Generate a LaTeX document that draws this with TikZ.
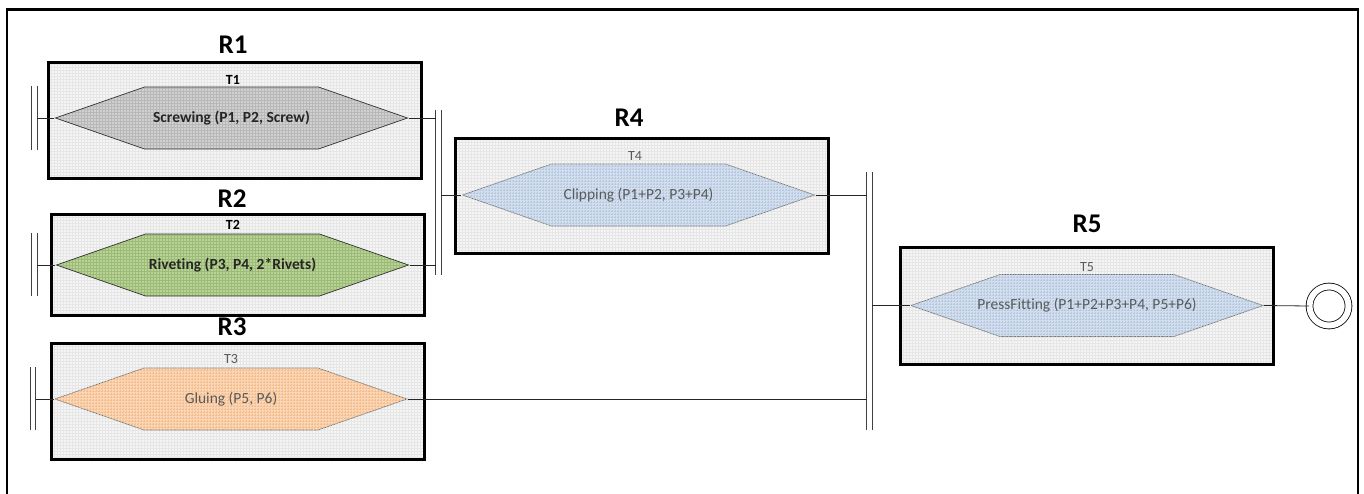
\documentclass[tikz,border=0pt]{standalone}
\usepackage{fontspec}
\setmainfont{Carlito}[Ligatures=NoCommon]
\usetikzlibrary{positioning, shapes.symbols, patterns, calc}

\definecolor{boxfill}{HTML}{F5F5F5}
\definecolor{boxgrid}{HTML}{E6E6E6}
\definecolor{grayfill}{HTML}{D0D0D0}
\definecolor{graygrid}{HTML}{B8B8B8}
\definecolor{greenfill}{HTML}{B9D396}
\definecolor{greengrid}{HTML}{9DBB78}
\definecolor{orangefill}{HTML}{FAD6B4}
\definecolor{orangegrid}{HTML}{F4BC8C}
\definecolor{bluefill}{HTML}{D2DEEE}
\definecolor{bluegrid}{HTML}{B5C8E0}
\definecolor{txtgray}{HTML}{5A5A5A}

% text of a task, kept out of the shape's size
\newcommand{\tasktxt}[1]{\makebox[0pt]{#1}}

\tikzset{
  resbox/.style={draw, line width=3pt, preaction={fill=boxfill},
    pattern=grid, pattern color=boxgrid,
    inner sep=0pt, minimum width=373pt},
  reslabel/.style={font=\fontsize{27}{27}\selectfont\bfseries},
  task/.style={signal, signal to=east and west, signal pointer angle=38.4,
    minimum width=352pt, minimum height=62pt, inner sep=0pt,
    preaction={fill=#1fill}, pattern=grid, pattern color=#1grid},
  taskon/.style={draw=black!80, line width=0.7pt,
    font=\fontsize{15.5}{15.5}\selectfont\bfseries, text=black!85},
  taskoff/.style={draw=black!55, line width=0.7pt, dash pattern=on 1pt off 0.6pt,
    font=\fontsize{15.5}{15.5}\selectfont, text=txtgray},
  tlbl/.style={font=\fontsize{14}{14}\selectfont, inner sep=0pt},
  barnode/.style={minimum width=5pt, inner sep=0pt, draw=none},
  bar/.style={line width=1.1pt, black!75},
  wire/.style={line width=0.8pt, black!85},
  endnode/.style={circle, draw, line width=0.8pt, double, double distance=6pt,
    minimum size=39pt, inner sep=0pt}
}

\begin{document}
\begin{tikzpicture}[x=1pt, y=-1pt]
  \useasboundingbox (0,0) rectangle (1364,493);
  \clip (0,0) rectangle (1364,493);
  % outer frame (its bottom is cut off)
  \draw[line width=2.5pt] (7,510) -- (7,9.5) -- (1358,9.5) -- (1358,510);

  % resources
  \node[resbox, minimum height=116pt] (r1) at (235,120) {};
  \node[resbox, minimum height=101pt] (r2) at (237.5,264.5) {};
  \node[resbox, minimum height=116pt] (r3) at (238,401) {};
  \node[resbox, minimum height=115pt] (r4) at (642,195.5) {};
  \node[resbox, minimum height=117pt] (r5) at (1086.5,305.5) {};
  \node[reslabel] at (233,45) {R1};
  \node[reslabel] at (232,199) {R2};
  \node[reslabel] at (232,327) {R3};
  \node[reslabel] at (629,118) {R4};
  \node[reslabel] at (1087,224) {R5};

  % tasks
  \node[task=gray, taskon] (t1) at (231.5,118) {\tasktxt{Screwing (P1, P2, Screw)}};
  \node[task=green, taskon] (t2) at (232.5,265) {\tasktxt{Riveting (P3, P4, 2*Rivets)}};
  \node[task=orange, taskoff] (t3) at (231,399) {\tasktxt{Gluing (P5, P6)}};
  \node[task=blue, taskoff] (t4) at (638.5,195) {\tasktxt{Clipping (P1+P2, P3+P4)}};
  \node[task=blue, taskoff] (t5) at (1087,305.5) {\tasktxt{PressFitting (P1+P2+P3+P4, P5+P6)}};
  \node[tlbl, font=\fontsize{14}{14}\selectfont\bfseries] at (233,80) {T1};
  \node[tlbl, font=\fontsize{14}{14}\selectfont\bfseries] at (233,225) {T2};
  \node[tlbl, text=txtgray] at (231,359) {T3};
  \node[tlbl, text=txtgray] at (635,156) {T4};
  \node[tlbl, text=txtgray] at (1087,267) {T5};

  % bars
  \node[barnode, minimum height=64pt] (b1) at (34.5,118) {};
  \node[barnode, minimum height=63pt] (b2) at (34.5,264.5) {};
  \node[barnode, minimum height=63pt] (b3) at (33,398.5) {};
  \node[barnode, minimum height=165pt] (ja) at (438.5,192.5) {};
  \node[barnode, minimum height=258pt] (jb) at (869.5,301) {};
  \foreach \b in {b1,b2,b3,ja,jb}{
    \draw[bar] (\b.north west) -- (\b.south west);
    \draw[bar] (\b.north east) -- (\b.south east);
  }

  % end place
  \node[endnode] (fin) at (1329,306) {};

  % wires
  \draw[wire] (t1.west -| b1.east) -- (t1.west);
  \draw[wire] (t2.west -| b2.east) -- (t2.west);
  \draw[wire] (t3.west -| b3.east) -- (t3.west);
  \draw[wire] (t1.east) -- (t1.east -| ja.west);
  \draw[wire] (t2.east) -- (t2.east -| ja.west);
  \draw[wire] (t4.west -| ja.east) -- (t4.west);
  \draw[wire] (t4.east) -- (t4.east -| jb.west);
  \draw[wire] (t3.east) -- (t3.east -| jb.west);
  \draw[wire] (t5.west -| jb.east) -- (t5.west);
  \draw[wire] (t5.east) -- (fin.west);
\end{tikzpicture}
\end{document}
